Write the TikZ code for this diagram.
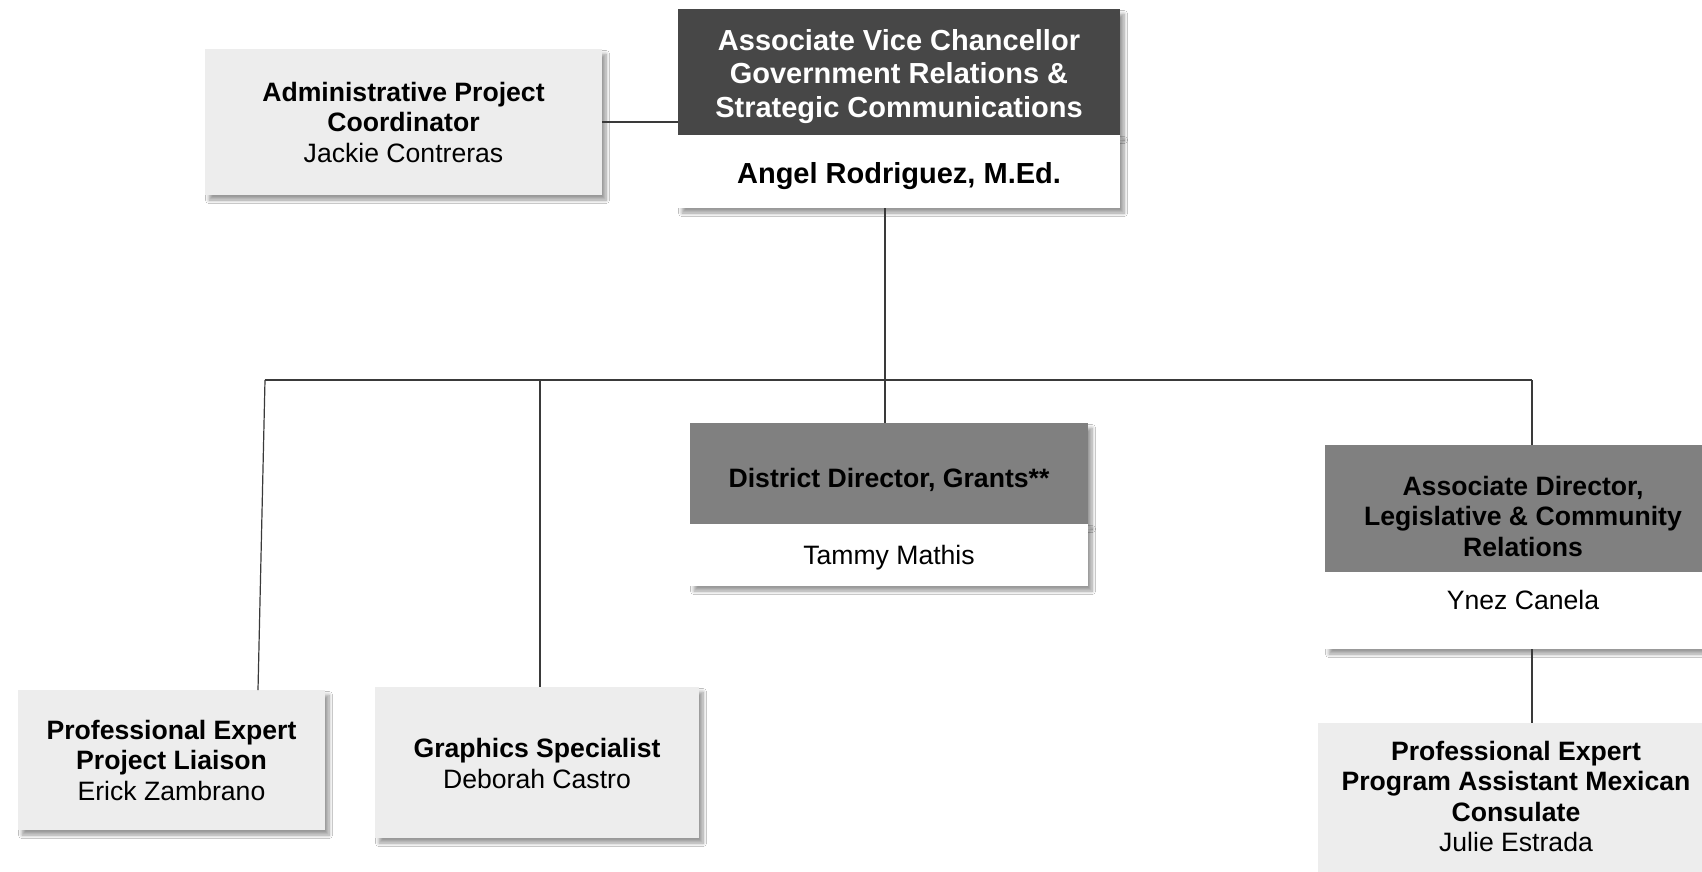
\documentclass[tikz,border=0pt]{standalone}
\usepackage{fontspec}
\setmainfont{Liberation Sans}
\usetikzlibrary{shadows.blur}
\definecolor{darkbox}{HTML}{474747}
\definecolor{midbox}{HTML}{808080}
\definecolor{lightbox}{HTML}{EDEDED}
\definecolor{linec}{HTML}{3A3A3A}
\tikzset{
  sh/.style={blur shadow={shadow xshift=4pt, shadow yshift=-5pt, shadow blur radius=3.5pt, shadow blur steps=8, shadow opacity=40}},
  box/.style={rectangle, inner sep=0pt, align=center, draw=none, sh},
  lbl/.style={font=\fontsize{26.6}{30.5}\selectfont, align=center, inner sep=0pt},
  lblb/.style={font=\bfseries\fontsize{26.6}{30.5}\selectfont, align=center, inner sep=0pt},
  topf/.style={font=\bfseries\fontsize{29}{33.6}\selectfont, align=center, inner sep=0pt},
  conn/.style={draw=linec, line width=1.2pt},
}
\begin{document}
\begin{tikzpicture}[x=1pt,y=-1pt]
\useasboundingbox (0,0) rectangle (1702,871);
\clip (0,0) rectangle (1702,871);
\fill[white] (0,0) rectangle (1702,871);

% top level
\node[box, fill=lightbox, minimum width=397pt, minimum height=146pt, lbl] (admin) at (403.5,122)
  {\textbf{Administrative Project}\\\textbf{Coordinator}\\Jackie Contreras};
\node[box, fill=darkbox, minimum width=442pt, minimum height=126pt,
  label={[topf, text=white, yshift=-4.5pt]center:{Associate Vice Chancellor\\Government Relations \&\\Strategic Communications}}] (avcT) at (899,72) {};
\node[box, fill=white, minimum width=442pt, minimum height=73pt,
  label={[topf, yshift=-4.5pt]center:Angel Rodriguez, M.Ed.}] (avcB) at (899,171.5) {};

% district director
\node[box, fill=midbox, minimum width=398pt, minimum height=101pt,
  label={[lblb, yshift=-6pt]center:District Director, Grants**}] (ddT) at (889,473.5) {};
\node[box, fill=white, minimum width=398pt, minimum height=62pt,
  label={[lbl, yshift=-3pt]center:Tammy Mathis}] (ddB) at (889,555) {};

% associate director
\node[box, fill=midbox, minimum width=396pt, minimum height=127pt,
  label={[lblb, yshift=-7.5pt]center:{Associate Director,\\Legislative \& Community\\Relations}}] (adT) at (1523,508.5) {};
\node[box, fill=white, minimum width=396pt, minimum height=77pt,
  label={[lbl, yshift=10.5pt]center:Ynez Canela}] (adB) at (1523,610.5) {};

% program assistant
\node[box, fill=lightbox, minimum width=396pt, minimum height=157pt,
  label={[lbl, yshift=5pt]center:{\textbf{Professional Expert}\\\textbf{Program Assistant Mexican}\\\textbf{Consulate}\\Julie Estrada}}] (pp) at (1516,801.5) {};

% bottom left boxes
\node[box, fill=lightbox, minimum width=307pt, minimum height=140pt, lbl] (pl) at (171.5,760)
  {\textbf{Professional Expert}\\\textbf{Project Liaison}\\Erick Zambrano};
\node[box, fill=lightbox, minimum width=324pt, minimum height=151pt,
  label={[lbl, yshift=-1pt]center:{\textbf{Graphics Specialist}\\Deborah Castro}}] (gs) at (537,762.5) {};

% connectors
\coordinate (busL) at (265,380);
\coordinate (busR) at (1532,380);
\coordinate (busC) at (885,380);
\coordinate (busG) at (540,380);
\coordinate (plIn) at (258,690);
\draw[conn] (admin.east) -- (admin.east -| avcT.west);
\draw[conn] (avcB.south -| busC) -- (ddT.north -| busC);
\draw[conn] (busL) -- (busR);
\draw[conn] (busL) -- (plIn);
\draw[conn] (gs.north -| busG) -- (busG);
\draw[conn] (busR) -- (adT.north -| busR);
\draw[conn] (adB.south -| busR) -- (pp.north -| busR);
\end{tikzpicture}
\end{document}
